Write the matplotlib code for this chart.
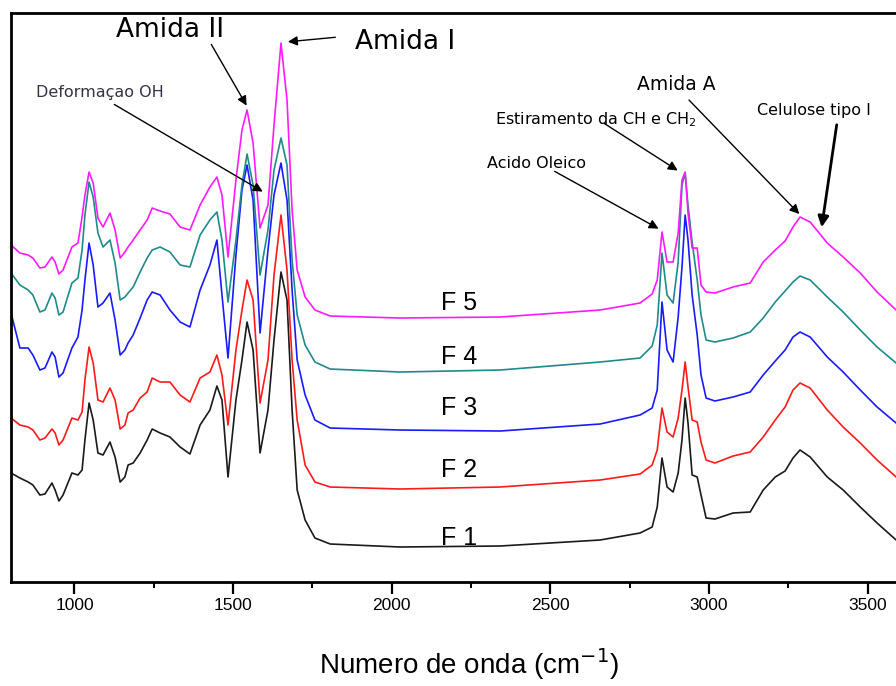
import matplotlib.pyplot as plt

plt.rcParams['font.family'] = ['Liberation Sans', 'DejaVu Sans']

# numero de onda (cm-1)
wn = [800, 828, 854, 869, 891, 907, 929, 939, 951, 964,
      992, 1011, 1024, 1033, 1046, 1059, 1074, 1090, 1112, 1128,
      1144, 1159, 1169, 1185, 1207, 1229, 1245, 1270, 1301, 1333,
      1364, 1396, 1427, 1449, 1465, 1484, 1509, 1528, 1544, 1563,
      1585, 1610, 1629, 1651, 1670, 1686, 1702, 1727, 1758, 1806,
      2026, 2342, 2657, 2783, 2821, 2837, 2852, 2868, 2887, 2903,
      2915, 2925, 2934, 2947, 2963, 2975, 2991, 3019, 3076, 3130,
      3171, 3209, 3240, 3265, 3287, 3319, 3373, 3423, 3477, 3530,
      3590, 3700]

# absorbancia (u.a., curvas deslocadas)
f1 = [109, 104, 100, 97, 87, 88, 99, 92, 81, 87,
      109, 107, 112, 142, 179, 162, 129, 127, 140, 125,
      100, 105, 117, 119, 129, 142, 153, 149, 145, 135,
      128, 157, 172, 196, 182, 105, 182, 222, 260, 232,
      129, 172, 242, 310, 282, 172, 92, 62, 44, 38,
      35, 36, 42, 49, 55, 75, 124, 95, 90, 109,
      142, 184, 159, 107, 105, 87, 64, 63, 69, 70,
      92, 105, 111, 124, 132, 125, 105, 92, 75, 59,
      42, 11]
f2 = [164, 157, 155, 152, 142, 144, 153, 149, 137, 142,
      164, 162, 170, 202, 235, 219, 182, 180, 194, 182,
      153, 157, 169, 172, 184, 190, 204, 200, 200, 187,
      180, 204, 210, 227, 207, 157, 232, 272, 302, 282,
      179, 222, 307, 367, 312, 222, 162, 117, 100, 95,
      93, 95, 102, 108, 117, 132, 174, 150, 145, 164,
      192, 220, 195, 162, 160, 140, 122, 119, 126, 130,
      145, 162, 175, 192, 199, 194, 172, 155, 139, 122,
      105, 74]
f3 = [269, 234, 234, 227, 212, 214, 230, 225, 205, 209,
      234, 245, 272, 302, 339, 317, 275, 279, 289, 262,
      227, 232, 239, 247, 264, 282, 290, 287, 272, 260,
      255, 292, 317, 342, 287, 224, 327, 392, 417, 382,
      249, 332, 387, 419, 382, 292, 222, 187, 162, 154,
      152, 151, 158, 167, 174, 192, 280, 232, 220, 265,
      315, 367, 342, 287, 247, 207, 184, 181, 185, 190,
      207, 221, 232, 245, 250, 245, 225, 210, 192, 175,
      159, 130]
f4 = [309, 297, 292, 287, 270, 272, 289, 284, 267, 270,
      299, 304, 332, 367, 400, 385, 349, 335, 342, 319,
      282, 285, 289, 295, 310, 324, 332, 335, 330, 317,
      315, 347, 362, 370, 342, 280, 342, 397, 428, 397,
      307, 352, 412, 444, 417, 322, 267, 237, 220, 213,
      210, 212, 220, 224, 236, 257, 329, 287, 279, 320,
      397, 409, 377, 340, 302, 267, 242, 240, 244, 250,
      264, 280, 291, 300, 306, 302, 285, 270, 252, 235,
      219, 189]
f5 = [337, 329, 327, 324, 314, 315, 325, 320, 308, 312,
      335, 339, 365, 387, 410, 399, 364, 355, 369, 352,
      324, 330, 335, 342, 352, 362, 374, 371, 368, 355,
      352, 377, 395, 405, 387, 325, 402, 452, 472, 439,
      354, 377, 457, 539, 482, 372, 312, 285, 272, 266,
      264, 265, 272, 279, 288, 302, 350, 320, 320, 349,
      402, 410, 369, 334, 334, 297, 290, 289, 295, 299,
      320, 332, 341, 355, 365, 360, 339, 325, 309, 290,
      272, 242]

series = [f1, f2, f3, f4, f5]
names = ['F1', 'F2', 'F3', 'F4', 'F5']
colors = ['#1a1a1a', '#ff1a1a', '#1a1aff', '#208a8a', '#ff1aff']

major_ticks = [1000, 1500, 2000, 2500, 3000, 3500]
minor_ticks = [1250, 1750, 2250, 2750, 3250, 3750]

fig = plt.figure(figsize=(8.96, 6.86), dpi=100)
# o eixo continua ate 4000 e fica cortado na borda direita, como no original
ax = fig.add_axes([0.0123, 0.1516, 1.133, 0.8294])

for y, c in zip(series, colors):
    ax.plot(wn, y, color=c, lw=1.2)

ax.set_xlim(800, 4000)
ax.set_ylim(0, 569)

# rotulos das curvas
label_y = [44, 112, 174, 225, 279]
for n, ly in zip(names, label_y):
    ax.text(2212, ly, n[0] + ' ' + n[1], fontsize=18, ha='center', va='center')

arrow = dict(arrowstyle='-|>', color='black', lw=1.0, mutation_scale=14)
big = dict(family='DejaVu Sans', ha='center', va='center')
small = dict(family='DejaVu Sans', ha='center', va='center', fontsize=11.5)

ax.annotate('', xy=(1547, 474), xytext=(1427, 540), arrowprops=arrow)
ax.text(1301, 552, 'Amida II', fontsize=19, **big)

ax.annotate('', xy=(1664, 540), xytext=(1831, 545), arrowprops=arrow)
ax.text(2042, 540, 'Amida I', fontsize=19, **big)

ax.annotate('', xy=(1601, 389), xytext=(1118, 479), arrowprops=arrow)
ax.text(1081, 490, 'Deformaçao OH', color='#333344', **small)

ax.annotate('', xy=(2909, 410), xytext=(2663, 460), arrowprops=arrow)
ax.text(2644, 462, 'Estiramento da CH e CH$_2$', **small)

ax.annotate('', xy=(2849, 352), xytext=(2506, 412), arrowprops=arrow)
ax.text(2455, 419, 'Acido Oleico', **small)

ax.annotate('', xy=(3291, 366), xytext=(2931, 484), arrowprops=arrow)
ax.text(2896, 498, 'Amida A', fontsize=13.5, **big)

ax.annotate('', xy=(3354, 352), xytext=(3404, 460),
            arrowprops=dict(arrowstyle='-|>', color='black', lw=2.0,
                            mutation_scale=16))
ax.text(3332, 472, 'Celulose tipo I', **small)

# eixos
for s in ax.spines.values():
    s.set_linewidth(2)
ax.set_xticks(major_ticks)
ax.set_xticks(minor_ticks, minor=True)
ax.tick_params(axis='x', which='major', direction='out', length=8.5,
               width=1.6, labelsize=12.5, pad=3)
ax.tick_params(axis='x', which='minor', direction='out', length=4, width=1.4)
ax.set_yticks([])
ax.set_xlabel('Numero de onda (cm$^{-1}$)', fontsize=20)
ax.xaxis.set_label_coords(0.451, -0.113)

fig.savefig('out.png', dpi=100)
